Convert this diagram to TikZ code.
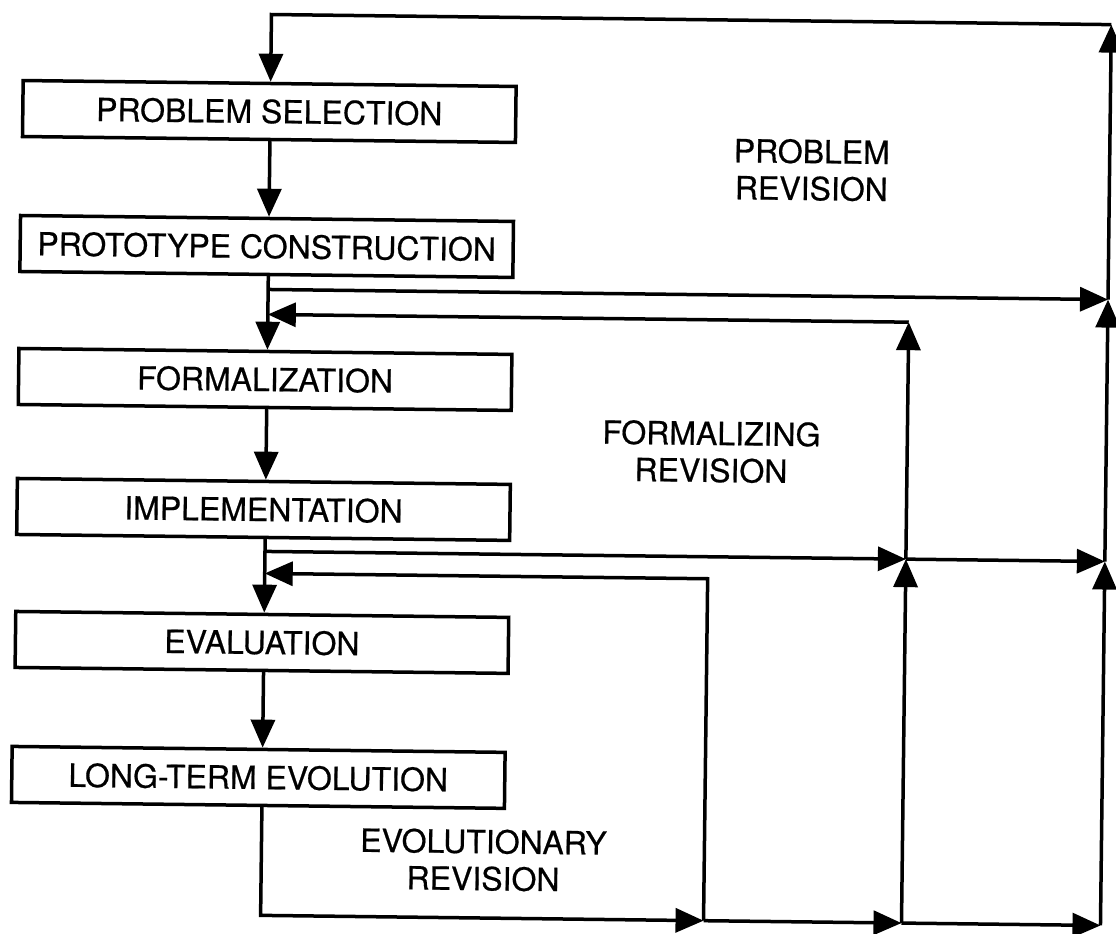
\documentclass[tikz,border=0pt]{standalone}
\usepackage{fontspec}
\setmainfont{TeX Gyre Heros}
\newfontfamily\inkfont{TeX Gyre Heros}[FakeBold=0.5]
\usetikzlibrary{arrows.meta}
\tikzset{
  ln/.style={line width=3.5pt, line join=miter},
  arr/.style={ln, -{Triangle[length=28pt,width=24pt]}},
  box/.style={draw, line width=3.5pt, rectangle, minimum width=493pt, minimum height=56pt,
              inner sep=0pt, font=\inkfont\fontsize{32}{37}\selectfont},
  lbl/.style={align=center, inner sep=0pt, font=\inkfont\fontsize{32}{37}\selectfont}
}
\begin{document}
\begin{tikzpicture}[x=1pt,y=-1pt]
\useasboundingbox (0,0) rectangle (1116,934);
\begin{scope}[rotate around={-0.69:(560,470)}, transform shape]
% boxes
\node[box] (ps)   at (265,115) {PROBLEM SELECTION};
\node[box] (pc)   at (264,250) {PROTOTYPE CONSTRUCTION};
\node[box] (form) at (264,383) {FORMALIZATION};
\node[box] (impl) at (264,513) {IMPLEMENTATION};
\node[box] (eval) at (264,646) {EVALUATION};
\node[box] (lte)  at (262,781) {LONG-TERM EVOLUTION};
% labels
\node[lbl] (lp) at (808,167) {PROBLEM\\REVISION};
\node[lbl] (lf) at (711,450) {FORMALIZING\\REVISION};
\node[lbl] (le) at (488,861) {EVOLUTIONARY\\REVISION};
% coordinates
\coordinate (tl) at (266,18);
\coordinate (tr) at (1106,18);
\coordinate (a1) at (266,293);
\coordinate (j1) at (1106,293);
\coordinate (a2) at (266,318);
\coordinate (fc) at (907,318);
\coordinate (b1) at (266,555);
\coordinate (j3) at (907,555);
\coordinate (j4) at (1106,555);
\coordinate (b2) at (266,577);
\coordinate (ec) at (709,577);
\coordinate (bl) at (266,919);
\coordinate (k1) at (709,919);
\coordinate (k2) at (907,919);
\coordinate (k3) at (1106,919);
% main flow
\draw[arr] (tr) -- (tl) -- (tl |- ps.north);
\draw[arr] (tl |- ps.south) -- (tl |- pc.north);
\draw[arr] (tl |- pc.south) -- (tl |- form.north);
\draw[arr] (tl |- form.south) -- (tl |- impl.north);
\draw[arr] (tl |- impl.south) -- (tl |- eval.north);
\draw[arr] (tl |- eval.south) -- (tl |- lte.north);
% problem revision
\draw[arr] (a1) -- (j1);
\draw[arr] (j1) -- (tr);
% formalizing revision
\draw[arr] (b1) -- (j3);
\draw[arr] (j3) -- (j4);
\draw[arr] (j4) -- (j1);
\draw[arr] (j3) -- (fc);
\draw[arr] (fc) -- (a2);
% evolutionary revision
\draw[arr] (tl |- lte.south) -- (bl) -- (k1);
\draw[arr] (k1) -- (ec) -- (b2);
\draw[arr] (k1) -- (k2);
\draw[arr] (k2) -- (k3);
\draw[arr] (k2) -- (j3);
\draw[arr] (k3) -- (j4);
\end{scope}
\end{tikzpicture}
\end{document}
